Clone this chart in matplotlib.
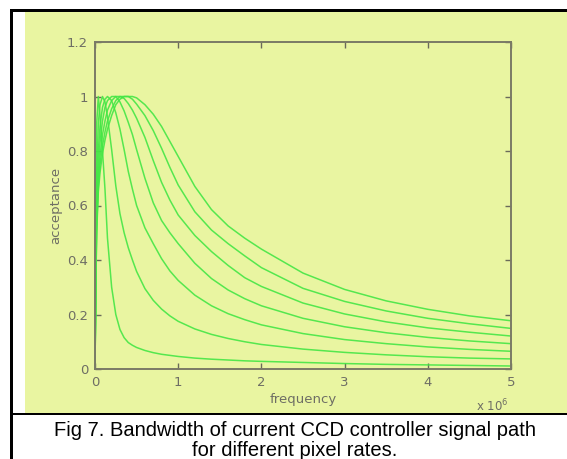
import matplotlib.pyplot as plt
from matplotlib.patches import Rectangle

# frequency grid (units of 1e6 Hz)
freq = [0, 0.01, 0.02, 0.04, 0.06, 0.09, 0.12, 0.15, 0.2, 0.25, 0.3, 0.35, 0.4, 0.45, 0.5,
        0.6, 0.7, 0.8, 0.9, 1.0, 1.2, 1.4, 1.6, 1.8, 2.0, 2.5, 3.0, 3.5, 4.0, 4.5, 5.0]

# acceptance for each pixel rate, lowest rate first
rate1 = [0, 0.55, 0.9, 1.0, 0.93, 0.8, 0.66, 0.48, 0.3, 0.2, 0.145, 0.115, 0.097, 0.087, 0.079,
         0.068, 0.06, 0.054, 0.05, 0.046, 0.04, 0.036, 0.033, 0.03, 0.028, 0.024, 0.02, 0.017, 0.015, 0.013, 0.011]
rate2 = [0, 0.42, 0.7, 0.9, 0.97, 1.0, 0.98, 0.925, 0.805, 0.672, 0.57, 0.5, 0.445, 0.4, 0.358,
         0.295, 0.252, 0.22, 0.195, 0.175, 0.147, 0.127, 0.112, 0.1, 0.09, 0.073, 0.061, 0.052, 0.045, 0.04, 0.037]
rate3 = [0, 0.37, 0.62, 0.8, 0.89, 0.96, 0.99, 1.0, 0.985, 0.94, 0.88, 0.805, 0.725, 0.66, 0.6,
         0.518, 0.46, 0.405, 0.36, 0.325, 0.271, 0.232, 0.203, 0.181, 0.162, 0.13, 0.108, 0.093, 0.081, 0.072, 0.065]
rate4 = [0, 0.34, 0.58, 0.74, 0.83, 0.91, 0.96, 0.985, 1.0, 1.0, 0.98, 0.947, 0.905, 0.86, 0.805,
         0.7, 0.61, 0.545, 0.5, 0.46, 0.388, 0.332, 0.29, 0.258, 0.232, 0.186, 0.155, 0.133, 0.116, 0.103, 0.093]
rate5 = [0, 0.32, 0.55, 0.7, 0.78, 0.86, 0.91, 0.95, 0.985, 1.0, 1.0, 0.993, 0.974, 0.95, 0.92,
         0.85, 0.765, 0.685, 0.62, 0.565, 0.49, 0.431, 0.38, 0.335, 0.303, 0.242, 0.202, 0.173, 0.151, 0.135, 0.121]
rate6 = [0, 0.3, 0.52, 0.67, 0.75, 0.82, 0.87, 0.91, 0.955, 0.985, 1.0, 1.0, 1.0, 0.99, 0.972,
         0.93, 0.875, 0.81, 0.74, 0.675, 0.577, 0.51, 0.46, 0.415, 0.372, 0.296, 0.248, 0.213, 0.186, 0.166, 0.149]
rate7 = [0, 0.3, 0.5, 0.65, 0.72, 0.79, 0.84, 0.88, 0.93, 0.97, 0.99, 1.0, 1.0, 1.0, 0.995,
         0.97, 0.935, 0.89, 0.835, 0.78, 0.67, 0.585, 0.525, 0.48, 0.44, 0.352, 0.292, 0.25, 0.219, 0.195, 0.177]
curves = [rate1, rate2, rate3, rate4, rate5, rate6, rate7]

xticks = [0, 1, 2, 3, 4, 5]
yticks = [0, 0.2, 0.4, 0.6, 0.8, 1.0, 1.2]
ytick_labels = ['0', '0.2', '0.4', '0.6', '0.8', '1', '1.2']

W, H = 567, 459
bg = '#e9f5a1'
grey = '#6e6e64'
green = '#45e645'

fig = plt.figure(figsize=(W / 100, H / 100), dpi=100)
fig.patch.set_facecolor('white')


def px_rect(x0, y0, x1, y1, **kw):
    # rectangle in pixel coords measured from the top-left corner
    r = Rectangle((x0 / W, 1 - y1 / H), (x1 - x0) / W, (y1 - y0) / H,
                  transform=fig.transFigure, **kw)
    fig.add_artist(r)


# pale panel and black frame lines
px_rect(25, 12, W, 413, facecolor=bg, edgecolor='none', zorder=0)
px_rect(10, 9, 12.5, H, facecolor='black', edgecolor='none', zorder=1)
px_rect(10, 9, W, 11.5, facecolor='black', edgecolor='none', zorder=1)
px_rect(10, 412.5, W, 415, facecolor='black', edgecolor='none', zorder=1)

ax = fig.add_axes([95 / W, 1 - 369 / H, (511 - 95) / W, (369 - 42) / H])
ax.set_facecolor(bg)

for c in curves:
    ax.plot(freq, c, color=green, lw=1.1, alpha=0.9)

ax.set_xlim(0, 5)
ax.set_ylim(0, 1.2)
ax.set_xticks(xticks)
ax.set_yticks(yticks)
ax.set_yticklabels(ytick_labels)

for s in ax.spines.values():
    s.set_color('#7a7a66')
    s.set_linewidth(1.4)
ax.tick_params(direction='in', length=4, width=1, color='#6a6a5a',
               top=True, right=True, labelsize=9.5, labelcolor=grey, pad=5)

ax.set_xlabel('frequency', fontsize=9.5, color=grey, va='center')
ax.xaxis.set_label_coords(0.5, (369 - 400) / 327)
ax.set_ylabel('acceptance', fontsize=9.5, color=grey, va='center')
ax.yaxis.set_label_coords((56 - 95) / 416, 0.5)
ax.text((492 - 95) / 416, (369 - 406) / 327, r'x 10$^6$', transform=ax.transAxes,
        fontsize=8.5, color=grey, ha='center', va='center')

fig.text(295 / W, 1 - 430 / H, 'Fig 7. Bandwidth of current CCD controller signal path',
         ha='center', va='center', fontsize=14.5, family='Liberation Sans')
fig.text(295 / W, 1 - 451 / H, 'for different pixel rates.',
         ha='center', va='center', fontsize=14.5, family='Liberation Sans')

fig.savefig('out.png', dpi=100, facecolor='white')
